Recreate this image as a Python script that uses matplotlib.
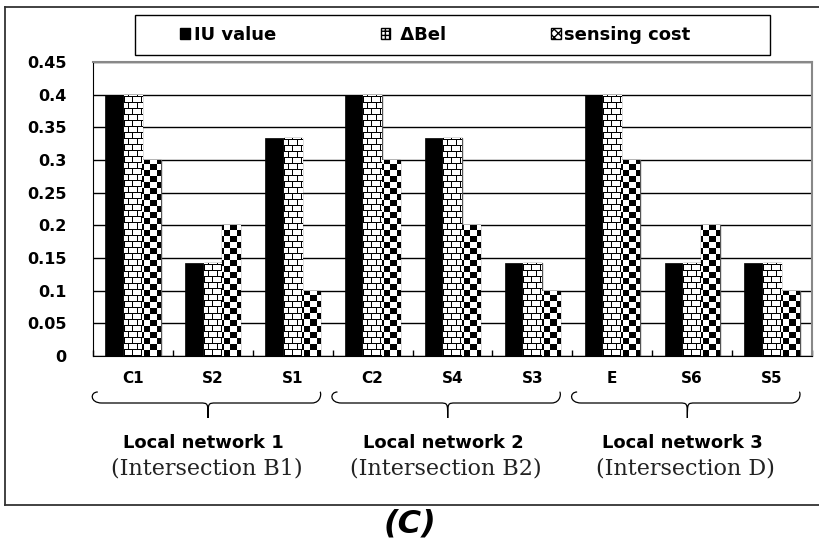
import numpy as np
import matplotlib
matplotlib.use("Agg")
import matplotlib.pyplot as plt
from matplotlib.patches import Patch, PathPatch, Rectangle
from matplotlib.path import Path
from matplotlib.lines import Line2D
import matplotlib.transforms as mtransforms

categories = ["C1", "S2", "S1", "C2", "S4", "S3", "E", "S6", "S5"]
iu_value = [0.4, 0.143, 0.333, 0.4, 0.333, 0.143, 0.4, 0.143, 0.143]
delta_bel = [0.4, 0.143, 0.333, 0.4, 0.333, 0.143, 0.4, 0.143, 0.143]
sensing_cost = [0.3, 0.2, 0.1, 0.3, 0.2, 0.1, 0.3, 0.2, 0.1]
networks = ["Local network 1", "Local network 2", "Local network 3"]
intersections = ["(Intersection B1)", "(Intersection B2)", "(Intersection D)"]
series_names = ["IU value", " \u0394Bel", "sensing cost"]
yticks = [0, 0.05, 0.1, 0.15, 0.2, 0.25, 0.3, 0.35, 0.4, 0.45]
ytick_labels = ["0", "0.05", "0.1", "0.15", "0.2", "0.25", "0.3", "0.35", "0.4", "0.45"]

W, H = 820, 541
fig = plt.figure(figsize=(W / 100, H / 100), dpi=100)
ax = fig.add_axes([93 / W, 1 - 356 / H, (812 - 93) / W, (356 - 62) / H])

x = np.arange(len(categories))
bw = 0.23
b1 = ax.bar(x - bw, iu_value, bw, color="black", edgecolor="black", linewidth=0.5, zorder=3)
b2 = ax.bar(x, delta_bel, bw, color="white", edgecolor="#555555", linewidth=1, zorder=3)
b3 = ax.bar(x + bw, sensing_cost, bw, color="white", edgecolor="#555555", linewidth=1, zorder=3)

ax.set_xlim(-0.5, len(categories) - 0.5)
ax.set_ylim(0, 0.45)


def bar_pixels(bar):
    p0 = ax.transData.transform((bar.get_x(), 0))
    p1 = ax.transData.transform((bar.get_x() + bar.get_width(), bar.get_height()))
    return max(int(round(p1[0] - p0[0])), 1), max(int(round(p1[1] - p0[1])), 1)


def brick(w, h):
    r, c = np.mgrid[0:h, 0:w]
    img = np.ones((h, w))
    img[r % 6 == 0] = 0
    off = ((r // 6) % 2) * 4
    img[((c + off) % 8 == 0) & (r % 6 != 0)] = 0
    return img


def checker(w, h):
    r, c = np.mgrid[0:h, 0:w]
    img = np.ones((h, w))
    img[((r // 6) + ((c - 2) // 6)) % 2 == 0] = 0
    return img


for bars, maker in ((b2, brick), (b3, checker)):
    for bar in bars:
        pw, ph = bar_pixels(bar)
        im = ax.imshow(maker(pw, ph), cmap="gray", vmin=0, vmax=1, origin="lower",
                       interpolation="nearest", aspect="auto", zorder=3.5,
                       extent=(bar.get_x(), bar.get_x() + bar.get_width(), 0, bar.get_height()))
        im.set_clip_path(bar)

ax.set_xlim(-0.5, len(categories) - 0.5)
ax.set_ylim(0, 0.45)
ax.set_aspect("auto")

ax.set_yticks(yticks)
ax.set_yticklabels(ytick_labels, fontweight="bold")
ax.yaxis.grid(True, color="black", linewidth=1, zorder=0)
ax.set_axisbelow(True)
ax.tick_params(axis="y", length=0, pad=19, labelsize=11.5)
ax.set_xticks(x)
ax.set_xticklabels(categories, fontsize=11, fontweight="bold")
ax.tick_params(axis="x", length=0, pad=11)
ax.set_xticks(np.arange(len(categories) + 1) - 0.5, minor=True)
ax.tick_params(axis="x", which="minor", direction="in", length=4, width=1)

ax.spines["left"].set_color("black")
ax.spines["bottom"].set_color("black")
ax.spines["top"].set_color("#888888")
ax.spines["right"].set_color("#888888")
ax.spines["top"].set_linewidth(1.5)
ax.spines["right"].set_linewidth(1.5)

# braces and group labels
trans = mtransforms.blended_transform_factory(ax.transData, fig.transFigure)
yt, ym, yb = 1 - 392 / H, 1 - 403 / H, 1 - 418 / H
for g in range(len(networks)):
    x0 = 3 * g - 0.54
    x1 = 3 * g + 2.36
    xm = 3 * g + 0.94
    verts = [(x0 + 0.1, yt), (x0, yt), (x0, ym), (x0 + 0.15, ym),
             (xm - 0.1, ym),
             (xm, ym), (xm, ym), (xm, yb),
             (xm, ym), (xm, ym), (xm + 0.1, ym),
             (x1 - 0.12, ym),
             (x1, ym), (x1, yt), (x1 - 0.02, yt)]
    codes = [Path.MOVETO, Path.CURVE4, Path.CURVE4, Path.CURVE4,
             Path.LINETO,
             Path.CURVE4, Path.CURVE4, Path.CURVE4,
             Path.CURVE4, Path.CURVE4, Path.CURVE4,
             Path.LINETO,
             Path.CURVE4, Path.CURVE4, Path.CURVE4]
    ax.add_patch(PathPatch(Path(verts, codes), transform=trans, facecolor="none",
                           edgecolor="black", linewidth=0.9, clip_on=False))
    ax.text(xm - 0.06, 1 - 443 / H, networks[g], transform=trans, ha="center", va="center",
            fontsize=13, fontweight="bold")
    ax.text(xm - 0.02, 1 - 468 / H, intersections[g], transform=trans, ha="center", va="center",
            fontsize=16, family="DejaVu Serif", color="#222222")

# legend
handles = [Patch(facecolor="black", edgecolor="black"),
           Patch(facecolor="white", edgecolor="black", hatch="++++"),
           Patch(facecolor="white", edgecolor="black", hatch="xxxx")]
fig.add_artist(Rectangle((135 / W, 1 - 55 / H), 635 / W, 40 / H, transform=fig.transFigure,
                         fill=False, edgecolor="black", linewidth=1))
leg = fig.legend(handles, series_names, loc="center left", ncol=3, frameon=False,
                 bbox_to_anchor=(180 / W, 1 - 35 / H),
                 prop={"weight": "bold", "size": 13},
                 handlelength=0.55, handleheight=0.55, handletextpad=0.2,
                 columnspacing=5.8, borderaxespad=0, borderpad=0)

# outer frame
fc = "#333333"
fig.add_artist(Line2D([5 / W, 5 / W], [1 - 7 / H, 1 - 505 / H], color=fc, lw=1.3))
fig.add_artist(Line2D([5 / W, 1], [1 - 7 / H, 1 - 7 / H], color=fc, lw=1.3))
fig.add_artist(Line2D([5 / W, 1], [1 - 505 / H, 1 - 505 / H], color=fc, lw=1.3))

fig.text(410 / W, 1 - 524 / H, "(C)", ha="center", va="center", fontsize=23,
         fontweight="bold", fontstyle="italic")

fig.savefig("out.png", dpi=100)
